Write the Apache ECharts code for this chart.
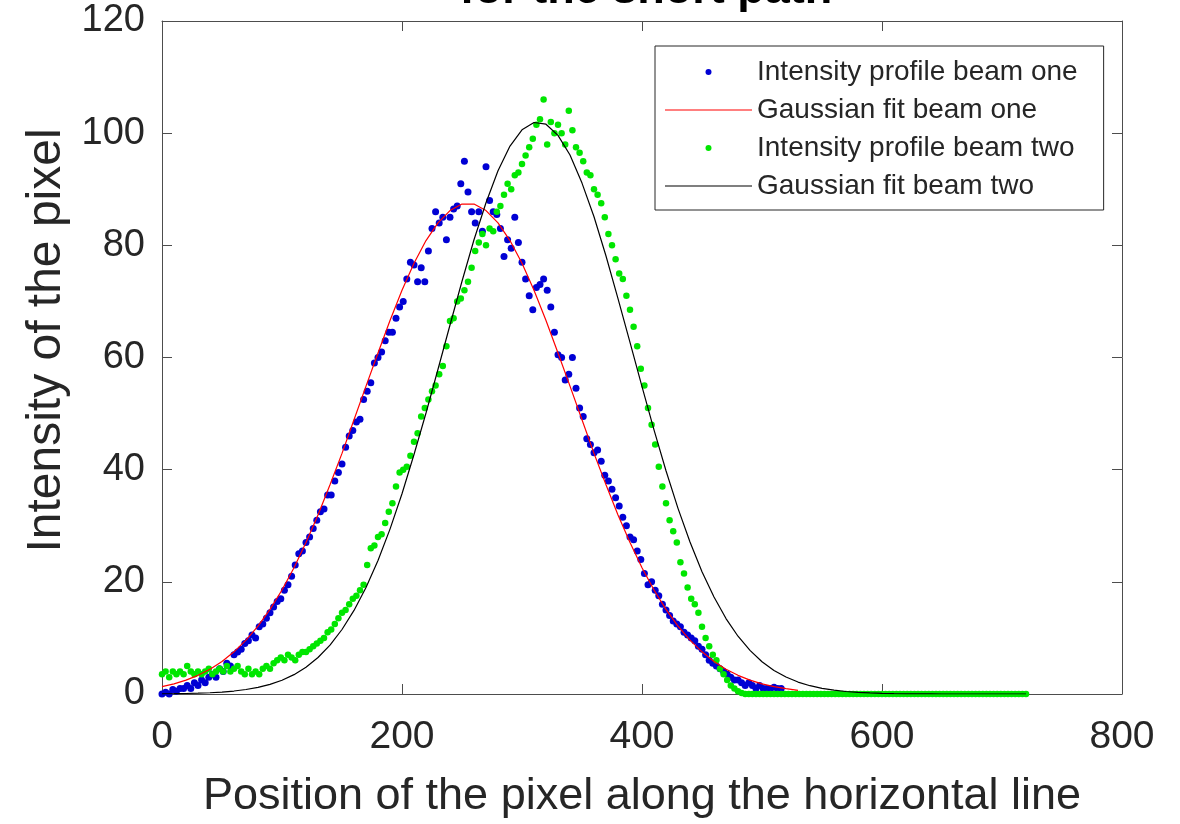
<!DOCTYPE html>
<html lang="en">
<head>
    <meta charset="UTF-8">
    <title>Intensity profiles for the short path</title>
    <script src="https://cdn.jsdelivr.net/npm/echarts@6/dist/echarts.min.js"></script>
    <style>
        html, body { margin: 0; padding: 0; background: #fff; }
    </style>
</head>
<body>
    <div id="main" style="width: 1180px;height:824px;"></div>
    <script type="text/javascript">
        // pixel index step of the sampled profiles and of the fitted curves
        const profileStep = 3;
        const fitStep = 10;

        // beam one intensity, x = 0, 3, 6 ... 516
        const beamOne = [
            0, 0.3, 0, 0.8, 0.5, 1, 1, 1.5, 1, 2,
            1.5, 2.5, 2, 3, 3.5, 3, 4.5, 4, 5.5, 5,
            7, 7.5, 8, 9, 9.5, 10.5, 10, 12, 12.5, 13.5,
            14.5, 15.5, 16.5, 17, 18.5, 19.5, 21, 23, 25, 25.5,
            27, 28, 29.5, 31, 32.5, 33, 35.5, 35.5, 38, 39.5,
            41, 44, 46, 47, 48.5, 49, 52.5, 54, 55.5, 59,
            60, 61, 63, 64.5, 64.5, 67, 69, 70, 74, 77,
            76.5, 73.5, 76, 73.5, 79, 83, 86, 84, 85, 81,
            85, 86.5, 87, 91, 95, 89.5, 86, 84, 86, 82.5,
            94, 88, 86, 85.5, 83, 78, 81, 79.5, 85, 80.5,
            77, 74, 71, 68.5, 72.5, 73, 74, 72, 69, 64.5,
            60.5, 60, 56, 57, 60, 54.5, 51, 49.5, 45.5, 44.5,
            43, 43.5, 41.5, 39, 38, 36.5, 35, 33.5, 31.5, 30,
            28, 27.5, 25.5, 24, 21.5, 19.5, 20, 18.5, 17.5, 16,
            15, 14, 13, 12.5, 12, 11, 10.5, 10, 9.5, 8.5,
            8, 7, 6, 5.5, 5, 4.5, 4, 3.5, 3, 2.5,
            2.5, 2, 1.5, 2, 1.5, 1, 1.5, 1, 1, 1,
            1.2, 1, 1
        ];

        // beam two intensity, x = 0, 3, 6 ... 720
        const beamTwo = [
            3.5, 4, 3, 4, 3.5, 4, 3.5, 5, 4, 3.5,
            4, 3.5, 4, 4.5, 3.5, 4, 4.5, 4, 5, 4,
            4.5, 5, 4, 3.5, 4.5, 3.5, 4, 3.5, 4.5, 5,
            4.5, 5.5, 6, 6.5, 6, 7, 6.5, 6, 7, 7.5,
            7.5, 8, 8.5, 9, 9.5, 10, 11, 11.5, 12.5, 13.5,
            14.5, 15, 16, 17, 17.5, 18.5, 19.5, 23, 26, 26.5,
            28, 28.5, 30.5, 32.5, 34, 37, 39.5, 40, 40.5, 42.5,
            45, 46.5, 49.5, 51, 52.5, 54, 55, 57, 58.5, 62,
            66.5, 67, 70, 70.5, 72, 73.5, 76, 79, 80.5, 82,
            80, 83, 82.5, 86, 87, 89, 91, 90, 92.5, 93,
            94.5, 96, 97.5, 99, 101.5, 102.5, 106, 98, 102, 100,
            101.5, 100, 98, 104, 100.5, 97.5, 96.5, 95, 93, 92.5,
            90, 89, 87.5, 85, 82, 80, 77.5, 75, 74, 71,
            68.5, 65.5, 62, 58, 55, 51, 48, 44.5, 40.5, 37,
            34, 31, 29, 27, 23.5, 21.5, 19, 17, 16, 14.5,
            12, 10, 8.5, 7, 6, 4.5, 3.5, 2.5, 1.5, 1,
            0.5, 0.2, 0, 0, 0, 0, 0, 0, 0, 0,
            0, 0, 0, 0, 0, 0, 0, 0, 0, 0,
            0, 0, 0, 0, 0, 0, 0, 0, 0, 0,
            0, 0, 0, 0, 0, 0, 0, 0, 0, 0,
            0, 0, 0, 0, 0, 0, 0, 0, 0, 0,
            0, 0, 0, 0, 0, 0, 0, 0, 0, 0,
            0, 0, 0, 0, 0, 0, 0, 0, 0, 0,
            0, 0, 0, 0, 0, 0, 0, 0, 0, 0,
            0
        ];

        // gaussian fit of beam one, x = 0, 10 ... 530
        const fitOne = [
            1.32, 1.81, 2.47, 3.33, 4.42, 5.8, 7.52, 9.6, 12.1, 15.1,
            18.55, 22.5, 27.0, 31.9, 37.3, 42.9, 48.9, 54.9, 60.8, 66.6,
            72.0, 76.8, 80.85, 84.0, 86.2, 87.36, 87.36, 86.2, 84.0, 80.85,
            76.8, 72.0, 66.6, 60.8, 54.9, 48.9, 42.9, 37.3, 31.9, 27.0,
            22.5, 18.55, 15.1, 12.1, 9.6, 7.52, 5.8, 4.42, 3.33, 2.47,
            1.81, 1.32, 0.95, 0.66
        ];

        // gaussian fit of beam two, x = 0, 10 ... 720
        const fitTwo = [
            0.03, 0.05, 0.09, 0.14, 0.22, 0.35, 0.53, 0.8, 1.18, 1.71,
            2.45, 3.45, 4.78, 6.51, 8.71, 11.5, 14.9, 19.0, 23.8, 29.4,
            35.7, 42.7, 50.1, 57.9, 65.8, 73.6, 81.0, 87.6, 93.3, 97.7,
            100.6, 101.9, 101.6, 99.6, 96.1, 91.1, 85.1, 78.1, 70.5, 62.7,
            54.8, 47.1, 39.8, 33.1, 27.1, 21.8, 17.3, 13.45, 10.3, 7.77,
            5.76, 4.2, 3.02, 2.13, 1.48, 1.01, 0.68, 0.45, 0.29, 0.19,
            0.12, 0.07, 0.04, 0.02, 0.01, 0, 0, 0, 0, 0,
            0, 0, 0
        ];

        const seriesNames = [
            'Intensity profile beam one',
            'Gaussian fit beam one',
            'Intensity profile beam two',
            'Gaussian fit beam two'
        ];
        const xTicks = [0, 800, 200];   // min, max, interval
        const yTicks = [0, 120, 20];

        const toPoints = (arr, step) => arr.map((v, i) => [i * step, v]);

        const fontFamily = '"Liberation Sans", Arial, Helvetica, sans-serif';
        const axisColor = '#4d4d4d';
        const textColor = '#262626';
        // thin horizontal stroke for the legend entries of the fitted curves
        const lineIcon = 'path://M0 0 M87 6 M0 2.4 L87 2.4 L87 3.6 L0 3.6 Z';

        // the box around the plot: bottom/left carry labels, top/right only ticks
        const makeX = (pos, labels) => ({
            type: 'value',
            position: pos,
            min: xTicks[0], max: xTicks[1], interval: xTicks[2],
            axisLine: { show: true, onZero: false, lineStyle: { color: axisColor, width: 1 } },
            axisTick: { show: true, inside: true, length: 10, lineStyle: { color: axisColor } },
            axisLabel: { show: labels, color: textColor, fontSize: 39, fontFamily: fontFamily, margin: 24 },
            splitLine: { show: false }
        });
        const makeY = (pos, labels) => ({
            type: 'value',
            position: pos,
            min: yTicks[0], max: yTicks[1], interval: yTicks[2],
            axisLine: { show: true, onZero: false, lineStyle: { color: axisColor, width: 1 } },
            axisTick: { show: true, inside: true, length: 10, lineStyle: { color: axisColor } },
            axisLabel: { show: labels, color: textColor, fontSize: 38, fontFamily: fontFamily, margin: 17 },
            splitLine: { show: false }
        });

        const xBottom = makeX('bottom', true);
        xBottom.name = 'Position of the pixel along the horizontal line';
        xBottom.nameLocation = 'middle';
        xBottom.nameGap = 80;
        xBottom.nameTextStyle = { color: textColor, fontSize: 45, fontFamily: fontFamily };

        const yLeft = makeY('left', true);
        yLeft.name = 'Intensity of the pixel';
        yLeft.nameLocation = 'middle';
        yLeft.nameGap = 90;
        yLeft.nameTextStyle = { color: textColor, fontSize: 48, fontFamily: fontFamily, padding: [0, 0, 0, 34] };

        const myChart = echarts.init(document.getElementById('main'));
        const option = {
            animation: false,
            backgroundColor: '#ffffff',
            title: {
                text: 'for the short path',
                left: 641,
                textAlign: 'center',
                top: -37,
                textStyle: { color: '#000', fontSize: 45, fontWeight: 'bold', fontFamily: fontFamily }
            },
            grid: { left: 162, right: 58, top: 21, bottom: 127, containLabel: false },
            legend: {
                orient: 'vertical',
                left: 655,
                top: 46,
                padding: [12, 26, 10, 10],
                itemWidth: 87,
                itemHeight: 6,
                itemGap: 10,
                itemTextGap: 8,
                backgroundColor: '#fff',
                borderColor: '#262626',
                borderWidth: 1,
                borderRadius: 0,
                textStyle: { color: textColor, fontSize: 28, fontFamily: fontFamily },
                data: [
                    { name: seriesNames[0], icon: 'circle' },
                    { name: seriesNames[1], icon: lineIcon },
                    { name: seriesNames[2], icon: 'circle' },
                    { name: seriesNames[3], icon: lineIcon }
                ]
            },
            xAxis: [xBottom, makeX('top', false)],
            yAxis: [yLeft, makeY('right', false)],
            series: [
                {
                    name: seriesNames[0],
                    type: 'scatter',
                    symbolSize: 7,
                    itemStyle: { color: '#0000d4', opacity: 1 },
                    data: toPoints(beamOne, profileStep)
                },
                {
                    name: seriesNames[1],
                    type: 'line',
                    symbol: 'none',
                    lineStyle: { color: '#ff0000', width: 1.2 },
                    itemStyle: { color: '#ff0000' },
                    data: toPoints(fitOne, fitStep)
                },
                {
                    name: seriesNames[2],
                    type: 'scatter',
                    symbolSize: 6.5,
                    itemStyle: { color: '#00e600', opacity: 1 },
                    data: toPoints(beamTwo, profileStep)
                },
                {
                    name: seriesNames[3],
                    type: 'line',
                    symbol: 'none',
                    lineStyle: { color: '#000000', width: 1.2 },
                    itemStyle: { color: '#000000' },
                    data: toPoints(fitTwo, fitStep)
                }
            ]
        };
        myChart.setOption(option);
    </script>
</body>
</html>
